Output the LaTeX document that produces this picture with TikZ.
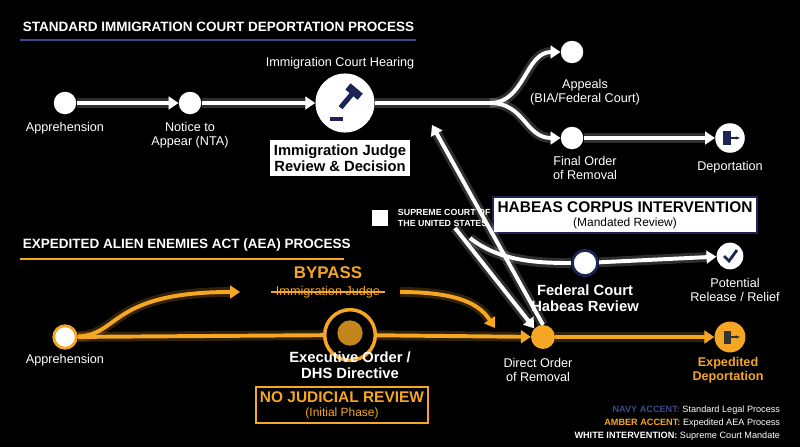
\documentclass[tikz,border=0pt]{standalone}
\usepackage{fontspec}
\setmainfont{Liberation Sans}
\usepackage{tikz}
\usetikzlibrary{arrows.meta,positioning,calc}
\definecolor{navy}{HTML}{1B2452}
\definecolor{amber}{HTML}{F5A623}
\definecolor{legnavy}{HTML}{3A4A8A}
\begin{document}
\begin{tikzpicture}[x=0.025cm,y=-0.025cm,
    wline/.style={draw=white, line width=2.8pt, preaction={draw=white, opacity=0.18, line width=7pt}},
    aline/.style={draw=amber, line width=2.8pt, preaction={draw=amber, opacity=0.2, line width=7pt}},
    warr/.style={wline, -{Triangle[length=7pt,width=9pt]}},
    aarr/.style={aline, -{Triangle[length=7pt,width=9pt]}},
    dot/.style={circle, fill=white, minimum size=16pt, inner sep=0pt},
    lbl/.style={text=white, font=\fontsize{9}{10}\selectfont, align=center},
    blbl/.style={text=white, font=\bfseries\fontsize{10.5}{11.5}\selectfont, align=center},
    title/.style={text=white, font=\bfseries\fontsize{9.6}{11}\selectfont, anchor=west}
]
    \fill[black] (0,0) rectangle (800,447);
    \useasboundingbox (0,0) rectangle (800,447);

    % Standard process
    \node[title] (t1) at (18,27) {STANDARD IMMIGRATION COURT DEPORTATION PROCESS};
    \draw[legnavy, line width=1.5pt] (20,40) -- (416,40);

    \node[dot] (app1) at (65,103) {};
    \node[dot] (nta) at (190,103) {};
    \node[circle, fill=white, minimum size=42pt, inner sep=0pt] (hear) at (345,103) {};
    \begin{scope}[shift={(347,100)}, rotate=-40]
        \fill[navy] (-2.5,-10) rectangle (2.5,10);
        \fill[navy] (-8,-15) rectangle (8,-7);
    \end{scope}
    \fill[navy] (330,117) rectangle (343,121);
    \coordinate (split) at (490,103);
    \node[dot] (appeal) at (572,52) {};
    \node[dot] (final) at (572,138) {};
    \node[dot, minimum size=21pt] (dep) at (730,138) {};
    \fill[navy] (723,131) rectangle (731,145);
    \draw[navy, line width=1.2pt, -{Stealth[length=3pt]}] (731,138) -- (740,138);

    \draw[warr] (app1) -- (nta);
    \draw[warr] (nta) -- (hear);
    \draw[wline] (hear) -- (split);
    \draw[warr] (split) .. controls (525,103) and (525,52) .. (appeal);
    \draw[warr] (split) .. controls (525,103) and (525,138) .. (final);
    \draw[warr] (final) -- (dep);

    \node[lbl] at (65,128) {Apprehension};
    \node[lbl] at (190,135) {Notice to\\Appear (NTA)};
    \node[lbl] at (340,63) {Immigration Court Hearing};
    \node[lbl] at (585,92) {Appeals\\(BIA/Federal Court)};
    \node[lbl] at (585,168) {Final Order\\of Removal};
    \node[lbl] at (730,167) {Deportation};
    \node[fill=white, text=black, font=\bfseries\fontsize{10.5}{11.5}\selectfont, align=center, inner sep=3pt] (ij) at (340,158) {Immigration Judge\\Review \& Decision};

    % Supreme court intervention
    \node[fill=white, inner sep=0pt, minimum width=12pt, minimum height=11pt] (sc) at (380,218) {};
    \node[text=white, font=\bfseries\fontsize{6.3}{7.3}\selectfont, align=left, anchor=west] at (393,218) {SUPREME COURT OF\\THE UNITED STATES};
    \coordinate (scb) at (455,228);
    \coordinate (hc) at (470,238);
    \coordinate (ijr) at (432,125);
    \node[circle, fill=white, draw=navy, line width=2pt, minimum size=18pt, inner sep=0pt] (fed) at (585,263) {};
    \node[dot, minimum size=19pt] (rel) at (730,256) {};
    \draw[navy, line width=2pt] (724,256) -- (729,261) -- (737,250);
    \node[fill=white, draw=navy, line width=1.5pt, text=black, align=center, inner sep=3pt, font=\fontsize{8.5}{10}\selectfont] (hab) at (625,215) {{\bfseries\fontsize{11}{12}\selectfont HABEAS CORPUS INTERVENTION}\\(Mandated Review)};
    \node[blbl] at (585,298) {Federal Court\\Habeas Review};
    \node[lbl] at (735,290) {Potential\\Release / Relief};

    % AEA process
    \node[title] (t2) at (18,245) {EXPEDITED ALIEN ENEMIES ACT (AEA) PROCESS};
    \draw[amber, line width=1.5pt] (20,259) -- (344,259);
    \node[circle, fill=white, draw=amber, line width=2pt, minimum size=16pt, inner sep=0pt] (app2) at (65,337) {};
    \node[circle, fill=black, draw=amber, line width=2.5pt, minimum size=36pt, inner sep=0pt] (eo) at (350,335) {};
    \node[circle, fill=amber!80!black, minimum size=18pt, inner sep=0pt] (seal) at (350,333) {};
    \node[circle, fill=amber, minimum size=17pt, inner sep=0pt] (dor) at (543,337) {};
    \node[circle, fill=amber, minimum size=22pt, inner sep=0pt] (edep) at (730,337) {};
    \fill[black!80] (724,331) rectangle (731,344);
    \draw[black!80, line width=1.2pt, -{Stealth[length=3pt]}] (731,337) -- (740,337);
    \coordinate (bp1) at (240,292);
    \coordinate (bp2) at (400,292);
    \coordinate (byend) at (495,328);

    \draw[aline] (app2) -- (eo);
    \draw[aarr] (eo) -- (dor);
    \draw[aarr] (dor) -- (edep);
    \draw[aarr] (app2) .. controls (120,335) and (110,292) .. (bp1);
    \draw[aarr] (bp2) .. controls (460,292) and (480,305) .. (byend);

    \node[text=amber, font=\bfseries\fontsize{12}{13}\selectfont] at (328,273) {BYPASS};
    \node[text=amber, font=\fontsize{9}{10}\selectfont] (ijs) at (328,292) {Immigration Judge};
    \draw[amber, line width=0.8pt] (ijs.west) -- (ijs.east);
    \node[lbl] at (65,360) {Apprehension};
    \node[blbl] at (350,365) {Executive Order /\\DHS Directive};
    \node[draw=amber, line width=1.5pt, align=center, inner sep=3pt, text=amber, font=\fontsize{8.5}{10}\selectfont] at (342,405) {{\bfseries\fontsize{11}{12}\selectfont NO JUDICIAL REVIEW}\\(Initial Phase)};
    \node[lbl] at (538,370) {Direct Order\\of Removal};
    \node[text=amber, font=\bfseries\fontsize{9}{10}\selectfont, align=center] at (728,370) {Expedited\\Deportation};

    % White intervention arrows
    \draw[warr] (dor.north) -- (ijr);
    \draw[warr] (scb) -- (dor.north west);
    \draw[warr] (hc) .. controls (500,262) and (540,263) .. (fed) -- (rel);

    % Legend
    \node[anchor=east, font=\fontsize{6.5}{7.5}\selectfont, text=white] at (785,410) {{\bfseries\color{legnavy}NAVY ACCENT:} Standard Legal Process};
    \node[anchor=east, font=\fontsize{6.5}{7.5}\selectfont, text=white] at (785,423) {{\bfseries\color{amber}AMBER ACCENT:} Expedited AEA Process};
    \node[anchor=east, font=\fontsize{6.5}{7.5}\selectfont, text=white] at (785,436) {{\bfseries WHITE INTERVENTION:} Supreme Court Mandate};
\end{tikzpicture}
\end{document}
